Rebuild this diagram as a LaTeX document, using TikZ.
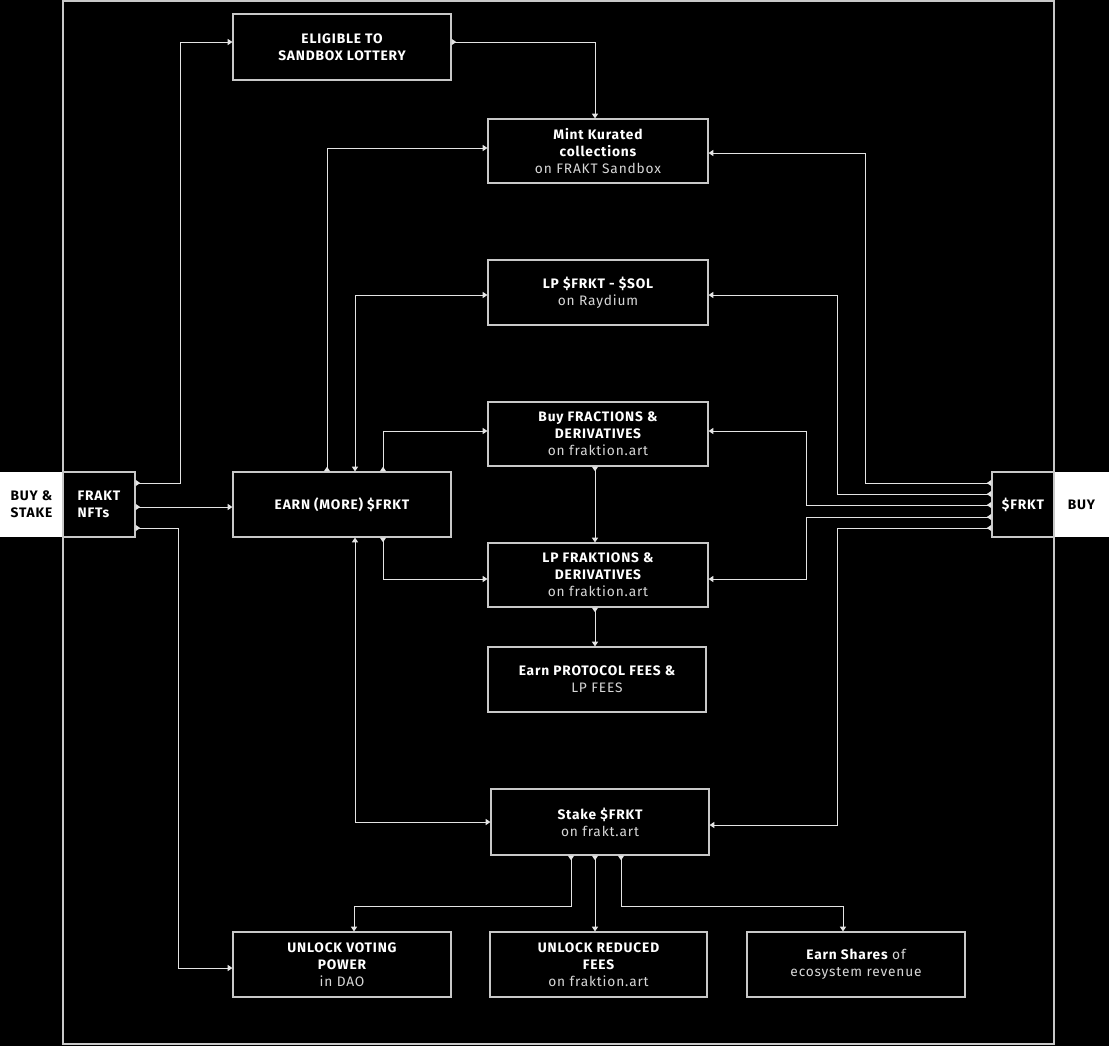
\documentclass[tikz,border=0pt]{standalone}
\usepackage{fontspec}
\setmainfont{Fira Sans}[LetterSpace=6]
\usetikzlibrary{arrows.meta}
\definecolor{edgec}{RGB}{200,200,200}
\definecolor{wirec}{RGB}{228,228,228}
\definecolor{subc}{RGB}{215,215,215}
\tikzset{
  box/.style={draw=edgec, line width=0.9pt, fill=black, text=white, align=center, inner sep=0pt, minimum width=163.5pt, minimum height=48.75pt, font=\fontsize{10.3}{12.75}\selectfont},
  side/.style={fill=white, text=black, align=center, inner sep=0pt, minimum height=48.75pt, font=\fontsize{10.3}{12.75}\selectfont\bfseries},
  link/.style={draw=wirec, line width=0.75pt, {Triangle[reversed,width=4.5pt,length=3.5pt]}-{Triangle[width=4.5pt,length=3.5pt]}},
  both/.style={draw=wirec, line width=0.75pt, {Triangle[width=4.5pt,length=3.5pt]}-{Triangle[width=4.5pt,length=3.5pt]}},
}
\newcommand{\hd}[1]{{\bfseries #1}}
\newcommand{\subtxt}[1]{{\color{subc}#1}}
\begin{document}
\begin{tikzpicture}[x=0.75pt,y=0.75pt,yscale=-1,xscale=1]
    \useasboundingbox (0,0) rectangle (1109,1046);
    \fill[black] (0,0) rectangle (1109,1046);

    %Shape: Rectangle (side labels)
    \draw (31.5,504.5) node [side] [minimum width=47.25pt] (buystake) {BUY \&\\STAKE};
    \draw (1081.5,504.5) node [side] [minimum width=41.25pt] (buy) {BUY};
    %Shape: Frame
    \draw [draw=edgec, line width=0.9pt] (63,1) rectangle (1054,1044);

    % Text Node
    \draw (99,504.5) node [box] [minimum width=54pt, align=left] (nft) {\hd{FRAKT}\\\hd{NFTs}};
    % Text Node
    \draw (1023,504.5) node [box] [minimum width=46.5pt] (frkt) {\hd{\$FRKT}};
    % Text Node
    \draw (342,47) node [box] [minimum height=49.5pt] (lottery) {\hd{ELIGIBLE TO}\\\hd{SANDBOX LOTTERY}};
    % Text Node
    \draw (598,151) node [box] [minimum width=165pt, minimum height=48pt] (mint) {\hd{Mint Kurated}\\\hd{collections}\\\subtxt{on FRAKT Sandbox}};
    % Text Node
    \draw (598,292.5) node [box] [minimum width=165pt] (lpsol) {\hd{LP \$FRKT - \$SOL}\\\subtxt{on Raydium}};
    % Text Node
    \draw (598,434) node [box] [minimum width=165pt, minimum height=48pt] (buyfr) {\hd{Buy FRACTIONS \&}\\\hd{DERIVATIVES}\\\subtxt{on fraktion.art}};
    % Text Node
    \draw (342,504.5) node [box] (earn) {\hd{EARN (MORE) \$FRKT}};
    % Text Node
    \draw (598,575) node [box] [minimum width=165pt, minimum height=48pt] (lpfr) {\hd{LP FRAKTIONS \&}\\\hd{DERIVATIVES}\\\subtxt{on fraktion.art}};
    % Text Node
    \draw (597,679.5) node [box] (fees) {\hd{Earn PROTOCOL FEES \&}\\\subtxt{LP FEES}};
    % Text Node
    \draw (600,822) node [box] [minimum height=49.5pt] (stake) {\hd{Stake \$FRKT}\\\subtxt{on frakt.art}};
    % Text Node
    \draw (342,964.5) node [box] (vote) {\hd{UNLOCK VOTING}\\\hd{POWER}\\\subtxt{in DAO}};
    % Text Node
    \draw (598.5,964.5) node [box] [minimum width=162.75pt] (reduced) {\hd{UNLOCK REDUCED}\\\hd{FEES}\\\subtxt{on fraktion.art}};
    % Text Node
    \draw (856,964.5) node [box] (shares) {\hd{Earn Shares} \subtxt{of}\\\subtxt{ecosystem revenue}};

    %Straight Lines (from FRAKT NFTs)
    \draw [link] (nft.east |- 0,483) -- (180,483) |- (lottery.west |- 0,42);
    \draw [link] (nft.east |- 0,507) -- (earn.west |- 0,507);
    \draw [link] (nft.east |- 0,528) -- (178,528) |- (vote.west |- 0,968);
    %Straight Lines (lottery)
    \draw [link] (lottery.east |- 0,42) -| (mint.north -| 595,0);
    %Straight Lines (from EARN)
    \draw [link] (earn.north -| 327,0) |- (mint.west |- 0,148);
    \draw [both] (earn.north -| 355,0) |- (lpsol.west |- 0,295);
    \draw [link] (earn.north -| 383,0) |- (buyfr.west |- 0,431);
    \draw [link] (earn.south -| 383,0) |- (lpfr.west |- 0,579);
    \draw [both] (earn.south -| 355,0) |- (stake.west |- 0,822);
    %Straight Lines (middle column)
    \draw [link] (buyfr.south -| 595,0) -- (lpfr.north -| 595,0);
    \draw [link] (lpfr.south -| 595,0) -- (fees.north -| 595,0);
    %Straight Lines (from $FRKT)
    \draw [link] (frkt.west |- 0,483) -- (865,483) |- (mint.east |- 0,153);
    \draw [link] (frkt.west |- 0,494) -- (837,494) |- (lpsol.east |- 0,295);
    \draw [link] (frkt.west |- 0,505) -- (806,505) |- (buyfr.east |- 0,431);
    \draw [link] (frkt.west |- 0,517) -- (806,517) |- (lpfr.east |- 0,579);
    \draw [link] (frkt.west |- 0,528) -- (837,528) |- (stake.east |- 0,825);
    %Straight Lines (from Stake)
    \draw [link] (stake.south -| 571,0) |- (354,906) -- (vote.north -| 354,0);
    \draw [link] (stake.south -| 595,0) -- (reduced.north -| 595,0);
    \draw [link] (stake.south -| 621,0) |- (843,906) -- (shares.north -| 843,0);

\end{tikzpicture}
\end{document}
